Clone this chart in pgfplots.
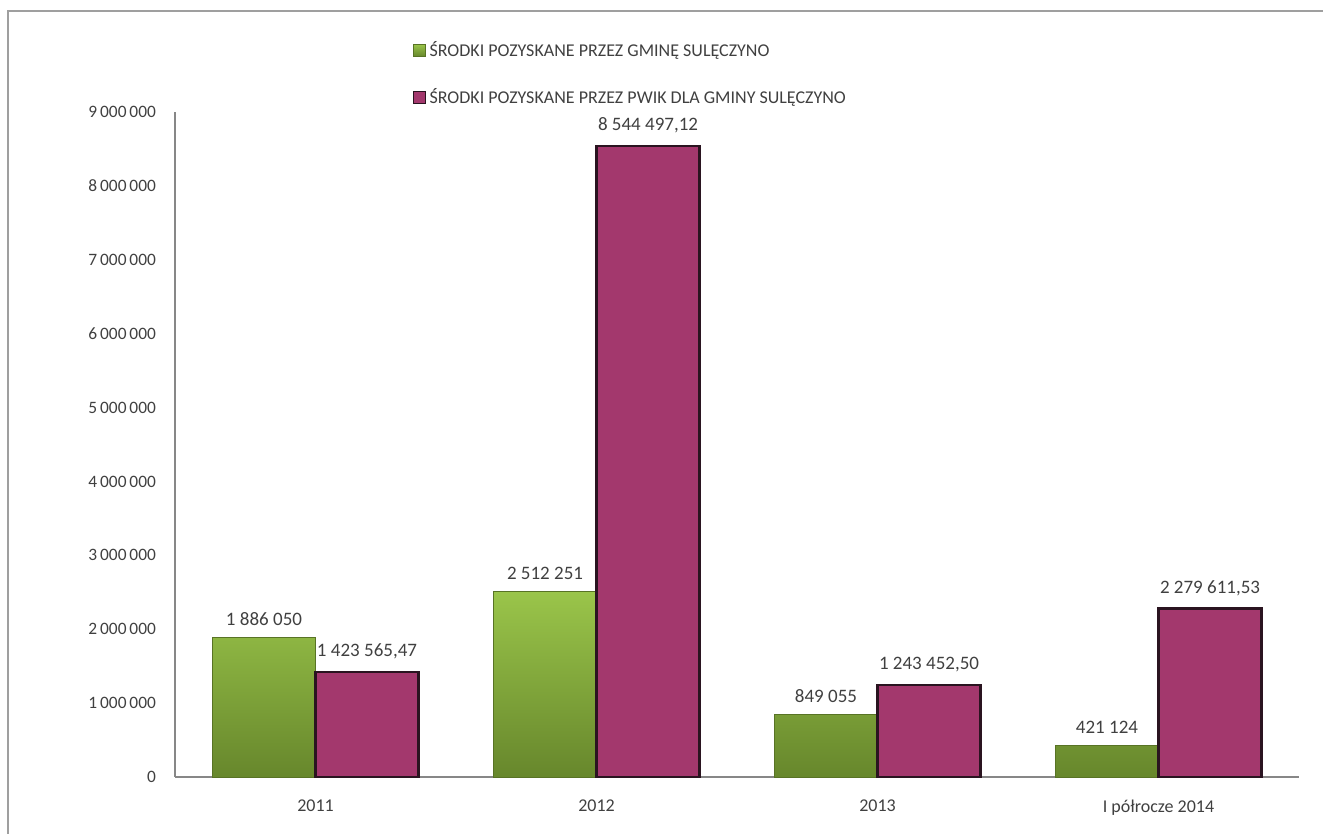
\documentclass[border=0pt]{standalone}
\usepackage{pgfplots}
\pgfplotsset{compat=1.18}
\usepackage{fontspec}
\setmainfont{Carlito}
\definecolor{txt}{HTML}{404040}
\definecolor{gtop}{HTML}{9AC54A}
\definecolor{gbot}{HTML}{67872C}
\definecolor{mag}{HTML}{A3386D}
\definecolor{magedge}{HTML}{2A1420}
\definecolor{axgray}{HTML}{878787}
\begin{document}
\begin{tikzpicture}
\useasboundingbox (-87.5pt,-28.5pt) rectangle (574pt,388.5pt);
\draw[axgray!80, line width=1pt] (-83.5pt,-30pt) -- (-83.5pt,383pt) -- (576pt,383pt);
\begin{axis}[
  at={(0,0)}, anchor=south west,
  scale only axis, width=562pt, height=332.5pt,
  xmin=-0.5, xmax=3.5, ymin=0, ymax=9000000,
  axis lines*=left,
  axis line style={draw=axgray, line width=1.3pt},
  major tick length=0pt,
  xtick={0,1,2,3},
  xticklabels={2011,2012,2013,I półrocze 2014},
  ytick={0,1000000,2000000,3000000,4000000,5000000,6000000,7000000,8000000,9000000},
  yticklabels={0,1\,000\,000,2\,000\,000,3\,000\,000,4\,000\,000,5\,000\,000,6\,000\,000,7\,000\,000,8\,000\,000,9\,000\,000},
  scaled y ticks=false,
  /pgf/number format/assume math mode=true,
  yticklabel style={font=\fontsize{8.7}{10}\selectfont, text=txt, anchor=east, xshift=-6pt},
  xticklabel style={font=\fontsize{9}{11}\selectfont, text=txt, anchor=north, yshift=-8pt},
  ybar=0pt, bar width=51.5pt,
  point meta=explicit symbolic,
  nodes near coords,
  nodes near coords style={font=\fontsize{9.5}{11}\selectfont, text=txt, anchor=south, yshift=2.5pt},
  legend style={at={(0.211,1.113)}, anchor=north west, draw=none, fill=none,
    font=\fontsize{9}{11}\selectfont, text=txt, row sep=10.5pt, inner sep=0pt},
  legend cell align=left,
  clip=false,
]
\addplot[draw=gbot!85!black, line width=0.4pt, top color=gtop, bottom color=gbot,
  legend image code/.code={\fill[top color=gtop, bottom color=gbot] (0pt,-3pt) rectangle (6pt,3pt);}]
  coordinates {(0,1886050) [1 886 050] (1,2512251) [2 512 251] (2,849055) [849 055] (3,421124) [421 124]};
\addlegendentry{ŚRODKI POZYSKANE PRZEZ GMINĘ SULĘCZYNO}
\addplot[draw=magedge, line width=1.1pt, fill=mag,
  legend image code/.code={\fill[mag, draw=magedge, line width=0.5pt] (0pt,-3pt) rectangle (6pt,3pt);}]
  coordinates {(0,1423565.47) [1 423 565,47] (1,8544497.12) [8 544 497,12] (2,1243452.50) [1 243 452,50] (3,2279611.53) [2 279 611,53]};
\addlegendentry{ŚRODKI POZYSKANE PRZEZ PWIK DLA GMINY SULĘCZYNO}
\end{axis}
\end{tikzpicture}
\end{document}
